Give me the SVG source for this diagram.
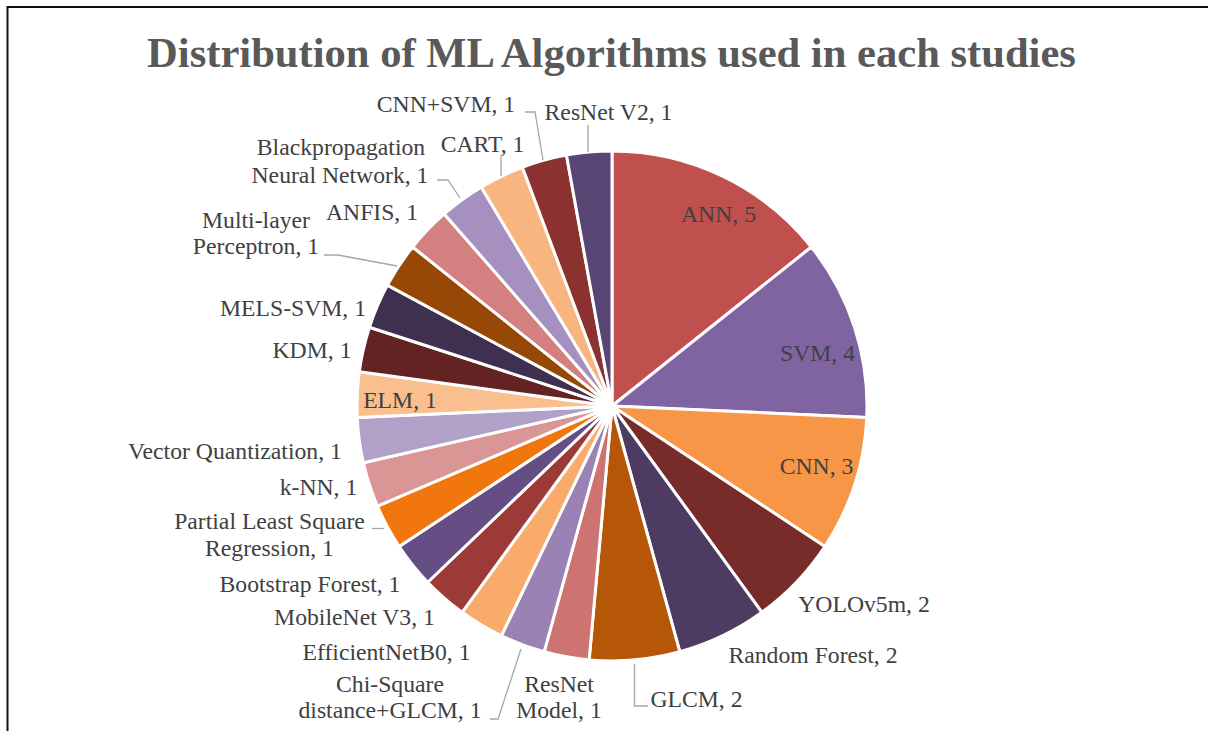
<svg xmlns="http://www.w3.org/2000/svg" width="1208" height="731" viewBox="0 0 1208 731">
<style>
.s{stroke:#fff;stroke-width:3;stroke-linejoin:round}
.t{font-family:'Liberation Serif',serif;font-size:23.7px;fill:#404040;text-anchor:middle}
.ttl{font-family:'Liberation Serif',serif;font-size:42.6px;font-weight:bold;fill:#595959;text-anchor:middle}
.ld{fill:none;stroke:#a6a6a6;stroke-width:1.3}
</style>
<rect width="1208" height="731" fill="#fff"/>
<path d="M7.5 731 V7 H1208" fill="none" stroke="#111" stroke-width="2"/>
<text class="ttl" x="611.5" y="67" font-family="Liberation Serif, serif">Distribution of ML Algorithms used in each studies</text>
<g id="pie">
<g id="ann"><path class="s" fill="#C0504D" d="M612 406 L612 151 A255 255 0 0 1 811.37 247.01 Z"/></g>
<g id="svm"><path class="s" fill="#8064A2" d="M612 406 L811.37 247.01 A255 255 0 0 1 866.74 417.44 Z"/></g>
<g id="cnn"><path class="s" fill="#F79646" d="M612 406 L866.74 417.44 A255 255 0 0 1 824.82 546.48 Z"/></g>
<g id="yolo"><path class="s" fill="#772C2A" d="M612 406 L824.82 546.48 A255 255 0 0 1 761.89 612.30 Z"/></g>
<g id="rf"><path class="s" fill="#4D3B62" d="M612 406 L761.89 612.30 A255 255 0 0 1 679.84 651.81 Z"/></g>
<g id="glcm"><path class="s" fill="#B65708" d="M612 406 L679.84 651.81 A255 255 0 0 1 589.14 659.97 Z"/></g>
<g id="resnetmodel"><path class="s" fill="#CD7371" d="M612 406 L589.14 659.97 A255 255 0 0 1 544.16 651.81 Z"/></g>
<g id="chisq"><path class="s" fill="#9A82B5" d="M612 406 L544.16 651.81 A255 255 0 0 1 501.36 635.75 Z"/></g>
<g id="effnet"><path class="s" fill="#F9AB6B" d="M612 406 L501.36 635.75 A255 255 0 0 1 462.11 612.30 Z"/></g>
<g id="mobilenet"><path class="s" fill="#9C3A38" d="M612 406 L462.11 612.30 A255 255 0 0 1 427.69 582.22 Z"/></g>
<g id="bootstrap"><path class="s" fill="#654E84" d="M612 406 L427.69 582.22 A255 255 0 0 1 399.18 546.48 Z"/></g>
<g id="plsr"><path class="s" fill="#F1760D" d="M612 406 L399.18 546.48 A255 255 0 0 1 377.50 506.22 Z"/></g>
<g id="knn"><path class="s" fill="#D99695" d="M612 406 L377.50 506.22 A255 255 0 0 1 363.39 462.74 Z"/></g>
<g id="vq"><path class="s" fill="#B1A0C7" d="M612 406 L363.39 462.74 A255 255 0 0 1 357.26 417.44 Z"/></g>
<g id="elm"><path class="s" fill="#FABF8F" d="M612 406 L357.26 417.44 A255 255 0 0 1 359.31 371.77 Z"/></g>
<g id="kdm"><path class="s" fill="#632322" d="M612 406 L359.31 371.77 A255 255 0 0 1 369.48 327.20 Z"/></g>
<g id="mels"><path class="s" fill="#3F3050" d="M612 406 L369.48 327.20 A255 255 0 0 1 387.43 285.16 Z"/></g>
<g id="mlp"><path class="s" fill="#974706" d="M612 406 L387.43 285.16 A255 255 0 0 1 412.63 247.01 Z"/></g>
<g id="anfis"><path class="s" fill="#D48080" d="M612 406 L412.63 247.01 A255 255 0 0 1 444.23 213.97 Z"/></g>
<g id="bpnn"><path class="s" fill="#A590BF" d="M612 406 L444.23 213.97 A255 255 0 0 1 481.21 187.10 Z"/></g>
<g id="cart"><path class="s" fill="#F8B580" d="M612 406 L481.21 187.10 A255 255 0 0 1 522.40 167.26 Z"/></g>
<g id="cnnsvm"><path class="s" fill="#8B3230" d="M612 406 L522.40 167.26 A255 255 0 0 1 566.45 155.10 Z"/></g>
<g id="resnetv2"><path class="s" fill="#584573" d="M612 406 L566.45 155.10 A255 255 0 0 1 612 151 Z"/></g>
</g>
<g id="connectors">
<path class="ld" d="M648 706 H634.5 V664"/>
<path class="ld" d="M490 719 H498 L521 649"/>
<path class="ld" d="M372 528.5 H384"/>
<path class="ld" d="M324 255 H338 L397 266"/>
<path class="ld" d="M437 180 H448 L460 198"/>
<path class="ld" d="M501 155 V176"/>
<path class="ld" d="M525 112 H535 L543 160"/>
<path class="ld" d="M588 125 V152"/>
</g>
<g id="labels" font-family="Liberation Serif, serif">
<text class="t" x="718.5" y="222">ANN, 5</text>
<text class="t" x="817.5" y="361">SVM, 4</text>
<text class="t" x="816.5" y="474">CNN, 3</text>
<text class="t" x="864" y="612">YOLOv5m, 2</text>
<text class="t" x="813" y="663">Random Forest, 2</text>
<text class="t" x="696.5" y="707">GLCM, 2</text>
<text class="t" x="559" y="692">ResNet</text>
<text class="t" x="559" y="718">Model, 1</text>
<text class="t" x="390" y="692">Chi-Square</text>
<text class="t" x="390" y="718">distance+GLCM, 1</text>
<text class="t" x="386.5" y="660">EfficientNetB0, 1</text>
<text class="t" x="354.5" y="625">MobileNet V3, 1</text>
<text class="t" x="310" y="592">Bootstrap Forest, 1</text>
<text class="t" x="269.5" y="529">Partial Least Square</text>
<text class="t" x="269.5" y="556">Regression, 1</text>
<text class="t" x="318.5" y="495">k-NN, 1</text>
<text class="t" x="235" y="459">Vector Quantization, 1</text>
<text class="t" x="400" y="408">ELM, 1</text>
<text class="t" x="312" y="358">KDM, 1</text>
<text class="t" x="293" y="316">MELS-SVM, 1</text>
<text class="t" x="256" y="228">Multi-layer</text>
<text class="t" x="256" y="254">Perceptron, 1</text>
<text class="t" x="372" y="220">ANFIS, 1</text>
<text class="t" x="341" y="155">Blackpropagation</text>
<text class="t" x="340" y="183">Neural Network, 1</text>
<text class="t" x="482.5" y="152">CART, 1</text>
<text class="t" x="446" y="112">CNN+SVM, 1</text>
<text class="t" x="608.5" y="120">ResNet V2, 1</text>
</g>
</svg>
